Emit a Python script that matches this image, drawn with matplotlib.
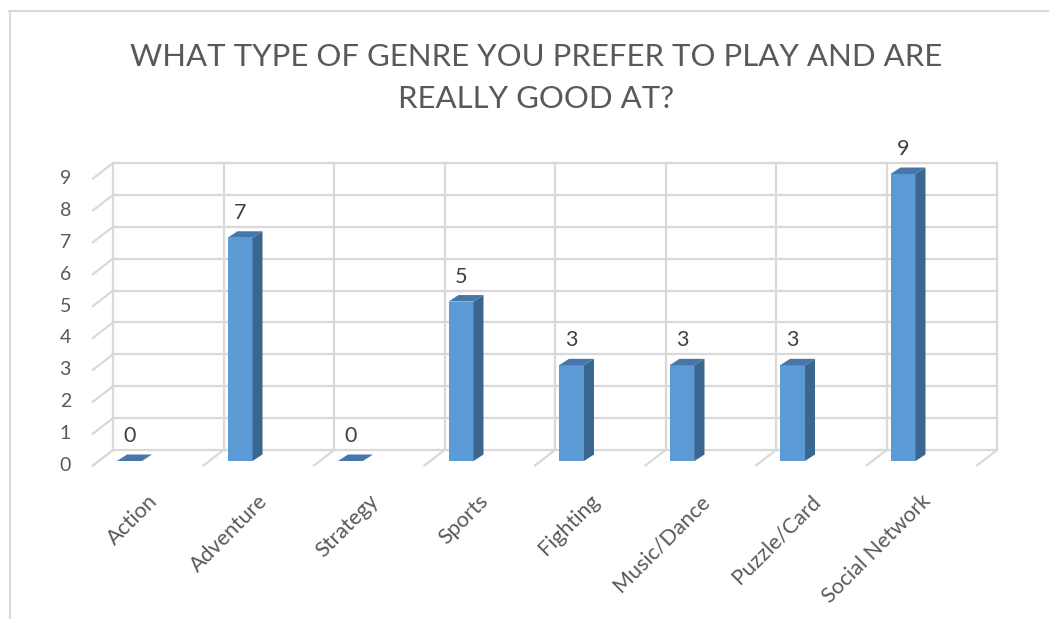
import matplotlib
matplotlib.use("Agg")
import matplotlib.pyplot as plt
from matplotlib.patches import Polygon

categories = ["Action", "Adventure", "Strategy", "Sports", "Fighting",
              "Music/Dance", "Puzzle/Card", "Social Network"]
values = [0, 7, 0, 5, 3, 3, 3, 9]
yticks = list(range(0, 10))
title = "WHAT TYPE OF GENRE YOU PREFER TO PLAY AND ARE\nREALLY GOOD AT?"

base = "Lato"

W, H = 1049, 619
fig = plt.figure(figsize=(W / 100, H / 100), dpi=100)

# back wall of the 3D chart
L, R, T, B = 113, 997, 163, 450
ax = fig.add_axes([L / W, 1 - B / H, (R - L) / W, (B - T) / H])
ax.set_xlim(0, len(categories))
ax.set_ylim(0, 9)
ax.axis("off")

pxx = (R - L) / len(categories)   # pixels per category
pxy = (B - T) / 9.0               # pixels per unit

grid_c = "#d9d9d9"
glw = 1.6
# depth offset of floor / side wall (back -> front)
ddx, ddy = -20 / pxx, -15.5 / pxy

for k in yticks:
    ax.plot([0, len(categories)], [k, k], color=grid_c, lw=glw, clip_on=False, zorder=1)
    ax.plot([0, ddx], [k, k + ddy], color=grid_c, lw=glw, clip_on=False, zorder=1)
    ax.text(ddx - 22 / pxx, k + ddy, str(k), ha="right", va="center",
            fontsize=14, color="#595959", family=base)
for j in range(len(categories) + 1):
    ax.plot([j, j], [0, 9], color=grid_c, lw=glw, clip_on=False, zorder=1)
    ax.plot([j, j + ddx], [0, ddy], color=grid_c, lw=glw, clip_on=False, zorder=1)

# bars
off = 4 / pxx
bw = 25 / pxx
bb = -11 / pxy
bdx, bdy = 10 / pxx, 6.5 / pxy
front_c, side_c, top_c = "#5b9bd5", "#3a6690", "#4677a8"
xs = [i + off for i in range(len(categories))]
ax.bar(xs, values, width=bw, bottom=bb, align="edge", color=front_c,
       linewidth=0, zorder=3, clip_on=False)
for x0, v in zip(xs, values):
    top = v + bb
    x1 = x0 + bw
    if v > 0:
        ax.add_patch(Polygon([(x1, bb), (x1 + bdx, bb + bdy), (x1 + bdx, top + bdy), (x1, top)],
                             closed=True, color=side_c, lw=0, zorder=3, clip_on=False))
    ax.add_patch(Polygon([(x0, top), (x0 + bdx, top + bdy), (x1 + bdx, top + bdy), (x1, top)],
                         closed=True, color=top_c, lw=0, zorder=3, clip_on=False))
    ax.text(x0 + bw / 2, top + 25 / pxy, str(v), ha="center", va="center",
            fontsize=15.5, color="#404040", family=base)

# category labels
for i, c in enumerate(categories):
    ax.text(i + 41 / pxx, -48 / pxy, c, ha="right", va="center", rotation=45,
            rotation_mode="anchor", fontsize=15.5, color="#595959", family=base)

fig.text(536 / W, 1 - 78 / H, title, ha="center", va="center", fontsize=22.4,
         color="#595959", family=base, linespacing=1.62)

# outer border
bax = fig.add_axes([0, 0, 1, 1], facecolor="none")
bax.set_xlim(0, W)
bax.set_ylim(H, 0)
bax.axis("off")
bax.plot([9, W], [11, 11], color="#d9d9d9", lw=1.5)
bax.plot([9.5, 9.5], [11, H], color="#d9d9d9", lw=1.5)

fig.savefig("out.png", dpi=100)
